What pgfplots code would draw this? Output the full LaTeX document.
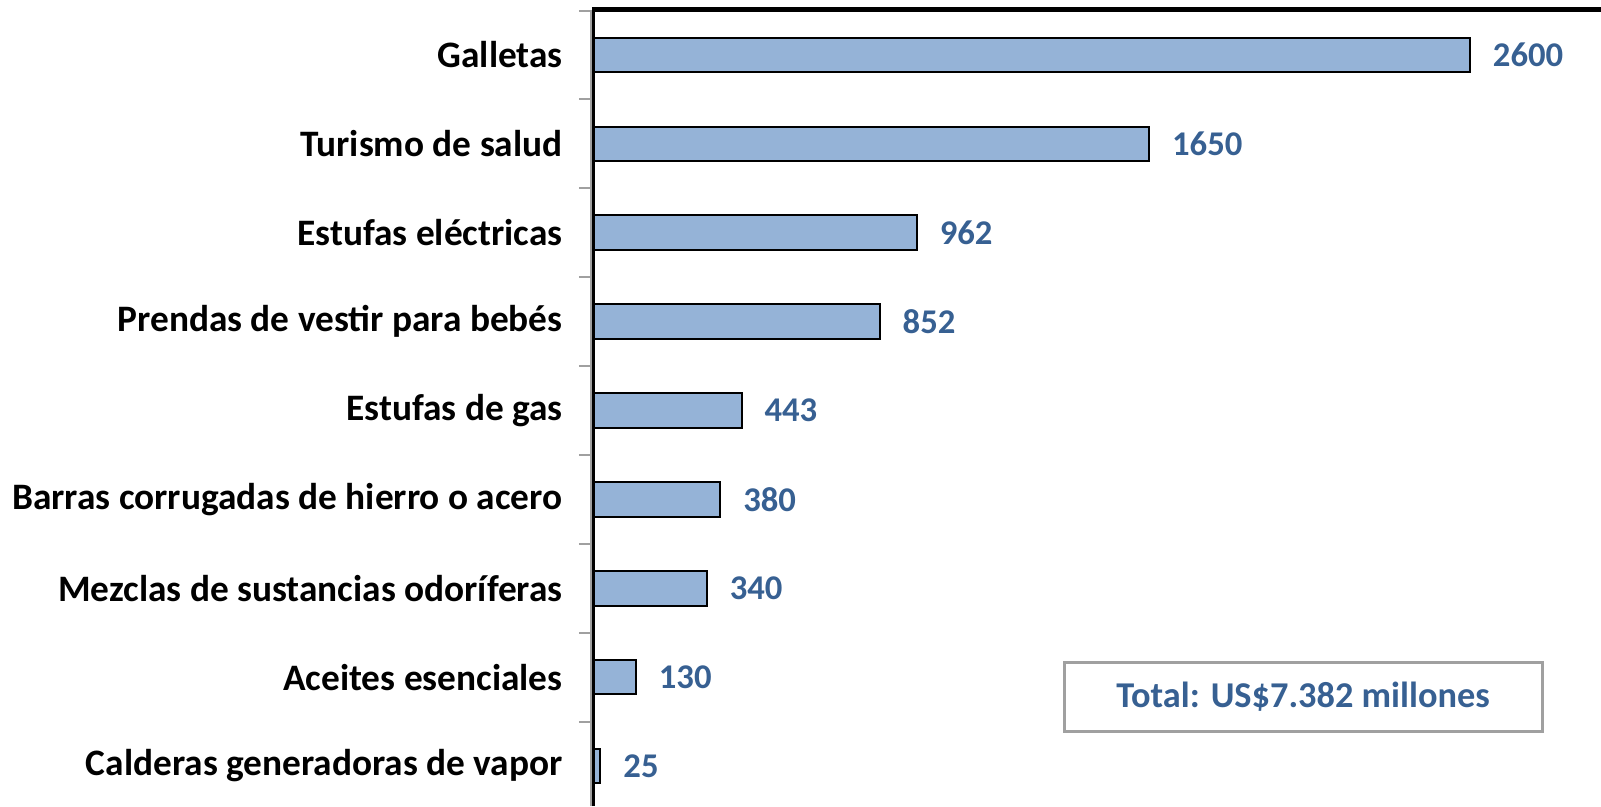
\documentclass[border=0pt]{standalone}
\usepackage{fontspec}
\setmainfont{Carlito}
\usepackage{pgfplots}
\pgfplotsset{compat=1.18}
\definecolor{barfill}{HTML}{95B3D7}
\definecolor{valblue}{HTML}{376092}
\definecolor{axgray}{HTML}{A0A0A0}
\begin{document}
\begin{tikzpicture}
\useasboundingbox (0,0) rectangle (480.3pt,241.8pt);
\begin{axis}[
  at={(177.6pt,0pt)}, anchor=south west,
  scale only axis, width=302.7pt, height=238.8pt,
  xmin=0, xmax=2988, ymin=-0.45, ymax=8.506,
  axis line style={draw=none},
  xtick=\empty,
  ytick pos=left,
  ytick={0,1,2,3,4,5,6,7,8},
  yticklabels={Calderas generadoras de vapor, Aceites esenciales, Mezclas de sustancias odoríferas, Barras corrugadas de hierro o acero, Estufas de gas, Prendas de vestir para bebés, Estufas eléctricas, Turismo de salud, Galletas},
  yticklabel style={font=\bfseries\fontsize{11.2pt}{13pt}\selectfont, inner sep=0pt, xshift=-8.6pt},
  minor ytick={-0.5,0.5,1.5,2.5,3.5,4.5,5.5,6.5,7.5,8.5},
  tick align=outside,
  major tick length=0pt,
  minor tick length=3.6pt,
  minor y tick style={draw=axgray, line width=0.6pt, xshift=-0.3pt},
  clip=false,
  xbar, bar width=10.35pt, bar shift=0pt,
  point meta=explicit symbolic,
  nodes near coords,
  nodes near coords style={font=\bfseries\fontsize{10.4pt}{12pt}\selectfont, text=valblue, anchor=west, inner sep=0pt, xshift=6.6pt},
]
\addplot[draw=black, line width=0.6pt, fill=barfill] coordinates {
  (25,0) [25]
  (130,1) [130]
  (340,2) [340]
  (380,3) [380]
  (443,4) [443]
  (852,5) [852]
  (962,6) [962]
  (1650,7) [1650]
  (2600,8) [2600]
};
\draw[axgray, line width=0.6pt] ([xshift=-0.3pt]rel axis cs:0,0) -- ([xshift=-0.3pt]rel axis cs:0,1);
\draw[black, line width=0.7pt] ([xshift=0.45pt]rel axis cs:0,0) -- ([xshift=0.45pt]rel axis cs:0,1);
\draw[black, line width=1.3pt] ([yshift=0.2pt]rel axis cs:0,1) -- ([yshift=0.2pt]rel axis cs:1,1);
\end{axis}
\node[draw=axgray, line width=0.9pt, minimum width=143.4pt, minimum height=20.7pt, inner sep=0pt, text=valblue, font=\bfseries\fontsize{10.9pt}{12pt}\selectfont] at (390.9pt,32.85pt) {Total: US\$7.382 millones};
\end{tikzpicture}
\end{document}
